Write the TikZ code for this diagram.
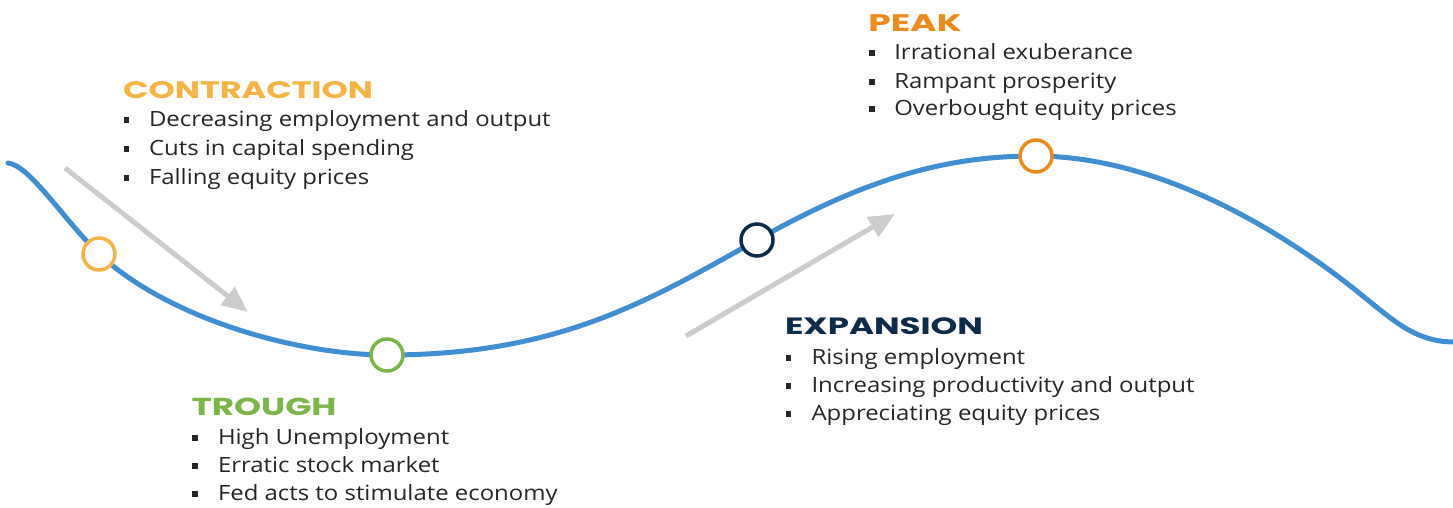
\documentclass[tikz,border=0pt]{standalone}
\usepackage{fontspec}
\usepackage{graphicx}
\setmainfont{Open Sans}[FakeStretch=1.14]
\newfontfamily\headfont{Poppins}
\usetikzlibrary{arrows.meta}
\definecolor{ccontr}{HTML}{F6B445}
\definecolor{cpeak}{HTML}{EE8B1C}
\definecolor{ctrough}{HTML}{7AB648}
\definecolor{cexp}{HTML}{0D2B4B}
\definecolor{cblue}{HTML}{3F8FD2}
\definecolor{cgray}{HTML}{CCCCCC}
\definecolor{ctext}{HTML}{262626}
\newcommand{\hd}[3]{\resizebox{#1pt}{#2pt}{\headfont\bfseries #3}}
\begin{document}
\begin{tikzpicture}[x=1pt,y=-1pt,
  bodytext/.style={anchor=base west,inner sep=0pt,outer sep=0pt,text=ctext,font=\fontsize{21}{25}\selectfont},
  bulletmark/.style={anchor=base west,inner sep=0pt,outer sep=0pt,text=ctext},
  headtext/.style={anchor=base west,inner sep=0pt,outer sep=0pt},
  phase/.style={circle,draw=#1,line width=3.5pt,fill=white,minimum size=32pt,inner sep=0pt},
  trend/.style={cgray,line width=5pt,-{Triangle[length=26pt,width=22pt]}}
]
\useasboundingbox (0,0) rectangle (1453,508);
% curve
\draw[cblue,line width=5pt,line cap=round]
  (8,163) .. controls (30,166) and (60,215) .. (99,254)
  .. controls (170,320) and (300,355) .. (387,355)
  .. controls (560,355) and (650,300) .. (757,240)
  .. controls (870,176) and (950,156) .. (1035,156)
  .. controls (1140,156) and (1250,210) .. (1340,278)
  .. controls (1390,316) and (1410,342) .. (1455,342);
% trend arrows
\coordinate (a1s) at (65,168);
\coordinate (a1e) at (248,312);
\coordinate (a2s) at (686,336);
\coordinate (a2e) at (895,214);
\draw[trend] (a1s) -- (a1e);
\draw[trend] (a2s) -- (a2e);
% phase circles
\node[phase=ccontr] (c1) at (99,254) {};
\node[phase=ctrough] (c2) at (387,355) {};
\node[phase=cexp] (c3) at (757,240) {};
\node[phase=cpeak] (c4) at (1036,156) {};
% CONTRACTION
\node[headtext,text=ccontr] (h1) at (123,98.5) {\hd{250}{17}{CONTRACTION}};
\node[bulletmark] (b11) at (123.5,126.7) {\rule[3.5pt]{5.5pt}{6pt}};
\node[bodytext] (t11) at (149,126.7) {Decreasing employment and output};
\node[bulletmark] (b12) at (123.5,155.4) {\rule[3.5pt]{5.5pt}{6pt}};
\node[bodytext] (t12) at (149,155.4) {Cuts in capital spending};
\node[bulletmark] (b13) at (123.5,184) {\rule[3.5pt]{5.5pt}{6pt}};
\node[bodytext] (t13) at (149,184) {Falling equity prices};
% TROUGH
\node[headtext,text=ctrough] (h2) at (191.5,415.5) {\hd{145}{17.5}{TROUGH}};
\node[bulletmark] (b21) at (192,444.5) {\rule[3.5pt]{5.5pt}{6pt}};
\node[bodytext] (t21) at (218,444.5) {High Unemployment};
\node[bulletmark] (b22) at (192,472.5) {\rule[3.5pt]{5.5pt}{6pt}};
\node[bodytext] (t22) at (218,472.5) {Erratic stock market};
\node[bulletmark] (b23) at (192,500.5) {\rule[3.5pt]{5.5pt}{6pt}};
\node[bodytext] (t23) at (218,500.5) {Fed acts to stimulate economy};
% EXPANSION
\node[headtext,text=cexp] (h3) at (785,334.3) {\hd{198}{16.8}{EXPANSION}};
\node[bulletmark] (b31) at (785.5,364.5) {\rule[3.5pt]{5.5pt}{6pt}};
\node[bodytext] (t31) at (811.5,364.5) {Rising employment};
\node[bulletmark] (b32) at (785.5,392.5) {\rule[3.5pt]{5.5pt}{6pt}};
\node[bodytext] (t32) at (811.5,392.5) {Increasing productivity and output};
\node[bulletmark] (b33) at (785.5,420.5) {\rule[3.5pt]{5.5pt}{6pt}};
\node[bodytext] (t33) at (811.5,420.5) {Appreciating equity prices};
% PEAK
\node[headtext,text=cpeak] (h4) at (868.3,31.7) {\hd{93.5}{16.8}{PEAK}};
\node[bulletmark] (b41) at (869,60) {\rule[3.5pt]{5.5pt}{6pt}};
\node[bodytext] (t41) at (894.3,60) {Irrational exuberance};
\node[bulletmark] (b42) at (869,88.3) {\rule[3.5pt]{5.5pt}{6pt}};
\node[bodytext] (t42) at (894.3,88.3) {Rampant prosperity};
\node[bulletmark] (b43) at (869,115.7) {\rule[3.5pt]{5.5pt}{6pt}};
\node[bodytext] (t43) at (894.3,115.7) {Overbought equity prices};
\end{tikzpicture}
\end{document}
